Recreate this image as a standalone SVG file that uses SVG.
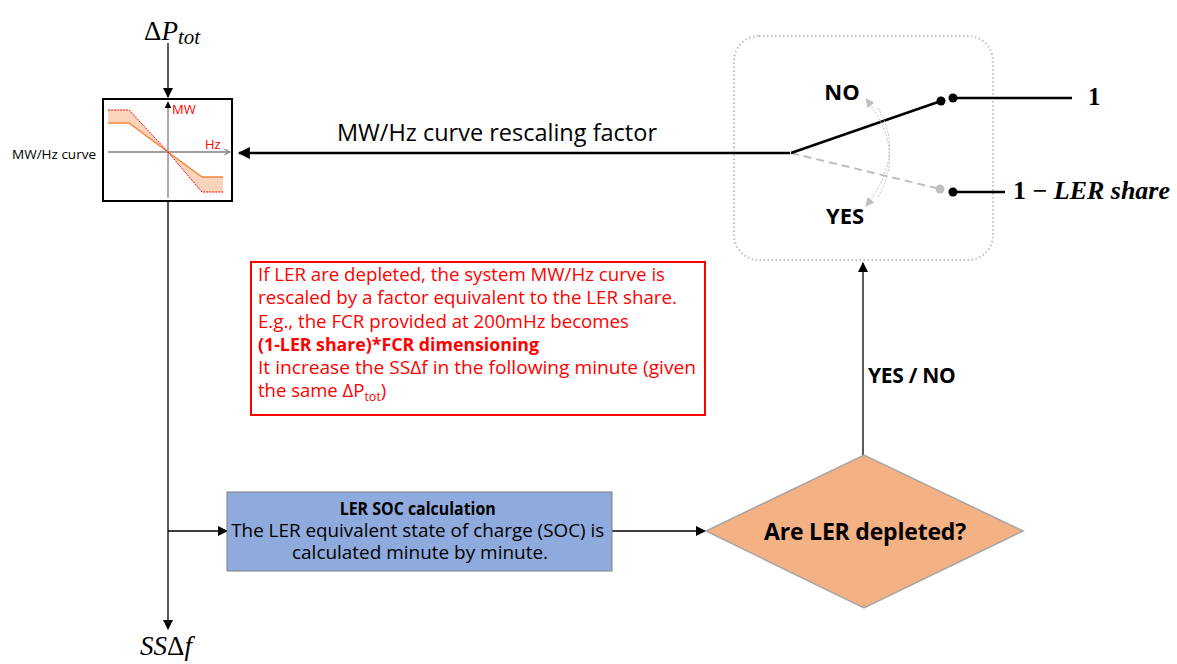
<svg xmlns="http://www.w3.org/2000/svg" width="1177" height="664" viewBox="0 0 1177 664">
<defs>
<marker id="ah" viewBox="0 0 10 10" refX="9" refY="5" markerWidth="10" markerHeight="10" markerUnits="userSpaceOnUse" orient="auto"><path d="M0,0 L10,5 L0,10 z" fill="#000"/></marker>
<marker id="ahBig" viewBox="0 0 10 10" refX="9" refY="5" markerWidth="14" markerHeight="12" markerUnits="userSpaceOnUse" orient="auto"><path d="M0,0 L10,5 L0,10 z" fill="#000"/></marker>
<marker id="ahGray" viewBox="0 0 10 10" refX="9" refY="5" markerWidth="9" markerHeight="9" markerUnits="userSpaceOnUse" orient="auto"><path d="M0,0 L10,5 L0,10 z" fill="#bfbfbf"/></marker>
<marker id="chev" viewBox="0 0 10 10" refX="9" refY="5" markerWidth="7" markerHeight="7" markerUnits="userSpaceOnUse" orient="auto"><path d="M1,1 L9,5 L1,9" fill="none" stroke="#7f7f7f" stroke-width="1.5"/></marker>
<marker id="ahSmall" viewBox="0 0 10 10" refX="9" refY="5" markerWidth="7" markerHeight="7" markerUnits="userSpaceOnUse" orient="auto"><path d="M0,0 L10,5 L0,10 z" fill="#000"/></marker>
</defs>
<style>
.sans{font-family:"Open Sans","Noto Sans",sans-serif}
.math{font-family:"Liberation Serif","DejaVu Serif",serif}
.conn{stroke:#000;stroke-width:1.3;fill:none}
.red{fill:#ff0000}
.b{font-weight:bold}
</style>
<rect width="1177" height="664" fill="#fff"/>

<g id="connectors">
<line class="conn" x1="168" y1="43" x2="168" y2="97" marker-end="url(#ah)"/>
<line class="conn" x1="168" y1="201" x2="168" y2="629" marker-end="url(#ah)"/>
<line class="conn" x1="168" y1="531" x2="227" y2="531" marker-end="url(#ah)"/>
<line class="conn" x1="612" y1="531" x2="705" y2="531" marker-end="url(#ah)"/>
<line class="conn" x1="863" y1="455" x2="863" y2="263" marker-end="url(#ah)"/>
<line x1="790" y1="153" x2="239" y2="153" stroke="#000" stroke-width="2.5" marker-end="url(#ahBig)"/>
</g>

<g id="deltaP">
<text class="math" x="144" y="40" font-size="27">Δ<tspan font-style="italic">P</tspan><tspan font-style="italic" font-size="21" dy="4">tot</tspan></text>
</g>

<g id="curve-node">
<rect x="103" y="99" width="129" height="102" fill="#fff" stroke="#000" stroke-width="2"/>
<polygon points="108,110 129,110 168,152 129,123 108,123" fill="#fbd5bb"/>
<polygon points="168,152 202,192 223,192 223,177 202,177" fill="#fbd5bb"/>
<line x1="108" y1="152" x2="230" y2="152" stroke="#7f7f7f" stroke-width="1.3" marker-end="url(#chev)"/>
<line x1="168" y1="198" x2="168" y2="102" stroke="#7f7f7f" stroke-width="1.3" marker-end="url(#ahSmall)"/>
<polyline points="108,123 129,123 168,152 202,177 223,177" fill="none" stroke="#f4873f" stroke-width="1.5"/>
<polyline points="108,110 129,110 168,152 202,192 223,192" fill="none" stroke="#ff0000" stroke-width="1" stroke-dasharray="2,1"/>
<text class="sans red" x="172" y="114" font-size="13">MW</text>
<text class="sans red" x="205" y="149" font-size="13">Hz</text>
<text class="sans" x="96" y="159" font-size="13.5" text-anchor="end" textLength="84" lengthAdjust="spacingAndGlyphs">MW/Hz curve</text>
</g>

<g id="rescale-label">
<text class="sans" x="497" y="141" font-size="23.5" text-anchor="middle">MW/Hz curve rescaling factor</text>
</g>

<g id="switch">
<rect x="734" y="36" width="259" height="224" rx="25" fill="none" stroke="#bfbfbf" stroke-width="2" stroke-dasharray="1.5,2.5"/>
<line x1="791" y1="153" x2="940" y2="189" stroke="#bfbfbf" stroke-width="2" stroke-dasharray="8,5"/>
<circle cx="940" cy="189" r="4.5" fill="#bfbfbf"/>
<line x1="791" y1="153" x2="941" y2="101" stroke="#000" stroke-width="2.5"/>
<circle cx="941" cy="101" r="4.5" fill="#000"/>
<circle cx="953" cy="98" r="4.5" fill="#000"/>
<line x1="953" y1="98" x2="1072" y2="98" stroke="#000" stroke-width="2.5"/>
<circle cx="953" cy="192" r="4.5" fill="#000"/>
<line x1="953" y1="192" x2="1005" y2="192" stroke="#000" stroke-width="2.5"/>
<path d="M 878 197 Q 906 150 866 99" fill="none" stroke="#bfbfbf" stroke-width="1" stroke-dasharray="2,1.5" marker-end="url(#ahGray)"/>
<path d="M 878 108 Q 906 155 866 206" fill="none" stroke="#bfbfbf" stroke-width="1" stroke-dasharray="2,1.5" marker-end="url(#ahGray)"/>
<text class="sans b" x="842" y="100" font-size="22" text-anchor="middle">NO</text>
<text class="sans b" x="845" y="224" font-size="22" text-anchor="middle">YES</text>
<text class="math b" x="1088" y="105" font-size="25">1</text>
<text class="math b" x="1013" y="199" font-size="25" textLength="157" lengthAdjust="spacingAndGlyphs">1 − <tspan font-style="italic">LER share</tspan></text>
</g>

<g id="note">
<rect x="251" y="262" width="454" height="153" fill="#fff" stroke="#ff0000" stroke-width="2"/>
<text class="sans red" font-size="18.5">
<tspan x="258" y="281" textLength="407" lengthAdjust="spacingAndGlyphs">If LER are depleted, the system MW/Hz curve is</tspan>
<tspan x="258" y="304" textLength="419" lengthAdjust="spacingAndGlyphs">rescaled by a factor equivalent to the LER share.</tspan>
<tspan x="258" y="328" textLength="371" lengthAdjust="spacingAndGlyphs">E.g., the FCR provided at 200mHz becomes</tspan>
<tspan x="258" y="351" font-weight="bold" textLength="281" lengthAdjust="spacingAndGlyphs">(1-LER share)*FCR dimensioning</tspan>
<tspan x="258" y="374" textLength="438" lengthAdjust="spacingAndGlyphs">It increase the SSΔf in the following minute (given</tspan>
<tspan x="258" y="397">the same ΔP<tspan font-size="12.5" dy="4">tot</tspan><tspan dy="-4">)</tspan></tspan>
</text>
</g>

<g id="soc">
<rect x="227" y="492" width="385" height="79" fill="#8faadc" stroke="#7f7f7f" stroke-width="1"/>
<text class="sans" font-size="17.5" text-anchor="middle">
<tspan x="420" y="515" font-weight="bold" textLength="156" lengthAdjust="spacingAndGlyphs">LER SOC calculation</tspan>
<tspan x="420" y="537" textLength="373" lengthAdjust="spacingAndGlyphs">The LER equivalent state of charge (SOC) is</tspan>
<tspan x="420" y="559" textLength="256" lengthAdjust="spacingAndGlyphs">calculated minute by minute.</tspan>
</text>
</g>

<g id="decision">
<polygon points="706,531 864,455 1023,531 864,608" fill="#f4b183" stroke="#a6a6a6" stroke-width="1.5"/>
<text class="sans b" x="865" y="540" font-size="23" text-anchor="middle" letter-spacing="-0.2">Are LER depleted?</text>
</g>

<g id="yesno">
<text class="sans b" x="868" y="383" font-size="21" letter-spacing="-0.3">YES / NO</text>
</g>

<g id="ssdf">
<text class="math" x="140" y="655" font-size="27" font-style="italic">SS<tspan font-style="normal">Δ</tspan>f</text>
</g>
</svg>
